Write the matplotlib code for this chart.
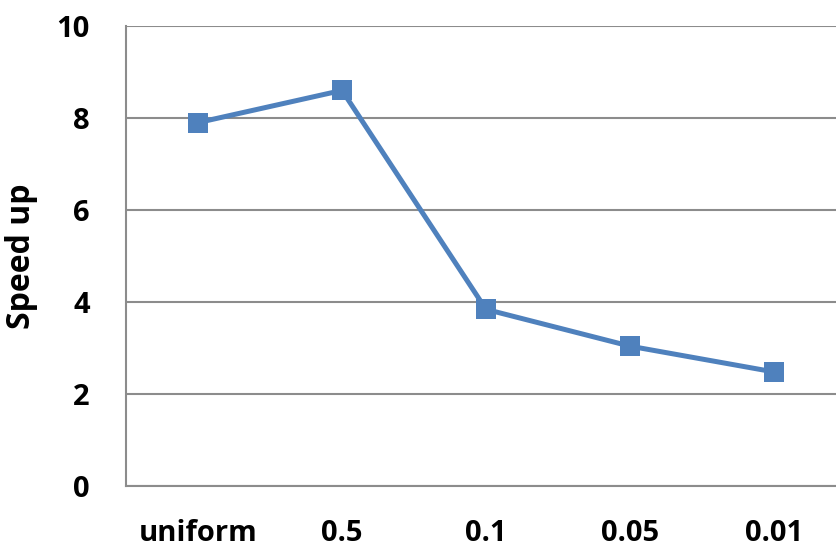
import matplotlib
matplotlib.use("Agg")
import matplotlib.pyplot as plt

categories = ["uniform", "0.5", "0.1", "0.05", "0.01"]
speedup = [7.9, 8.6, 3.84, 3.04, 2.48]
y_ticks = [0, 2, 4, 6, 8, 10]

plt.rcParams["font.family"] = ["Open Sans", "DejaVu Sans"]

fig = plt.figure(figsize=(8.36, 5.48), dpi=100)
ax = fig.add_axes([126 / 836, 62 / 548, 720 / 836, 460 / 548])

x = list(range(len(categories)))
ax.plot(x, speedup, color="#4F81BD", linewidth=3.6, marker="s",
        markersize=14, markeredgewidth=0, zorder=3)

ax.set_xlim(-0.5, len(categories) - 0.5)
ax.set_ylim(0, 10)
ax.set_yticks(y_ticks)
ax.set_xticks(x)
ax.set_xticklabels(categories)
ax.grid(axis="y", color="#8C8C8C", linewidth=1.5)
ax.set_axisbelow(True)

for side in ("top", "right"):
    ax.spines[side].set_visible(False)
for side in ("left", "bottom"):
    ax.spines[side].set_color("#8C8C8C")
    ax.spines[side].set_linewidth(1.5)

ax.tick_params(axis="both", length=0, labelsize=21)
ax.tick_params(axis="y", pad=26)
ax.tick_params(axis="x", pad=24)
for lbl in ax.get_xticklabels() + ax.get_yticklabels():
    lbl.set_fontweight("bold")

ax.set_ylabel("Speed up", fontsize=23, fontweight="bold")
ax.yaxis.set_label_coords(-0.122, 0.5)

fig.savefig("out.png", dpi=100)
